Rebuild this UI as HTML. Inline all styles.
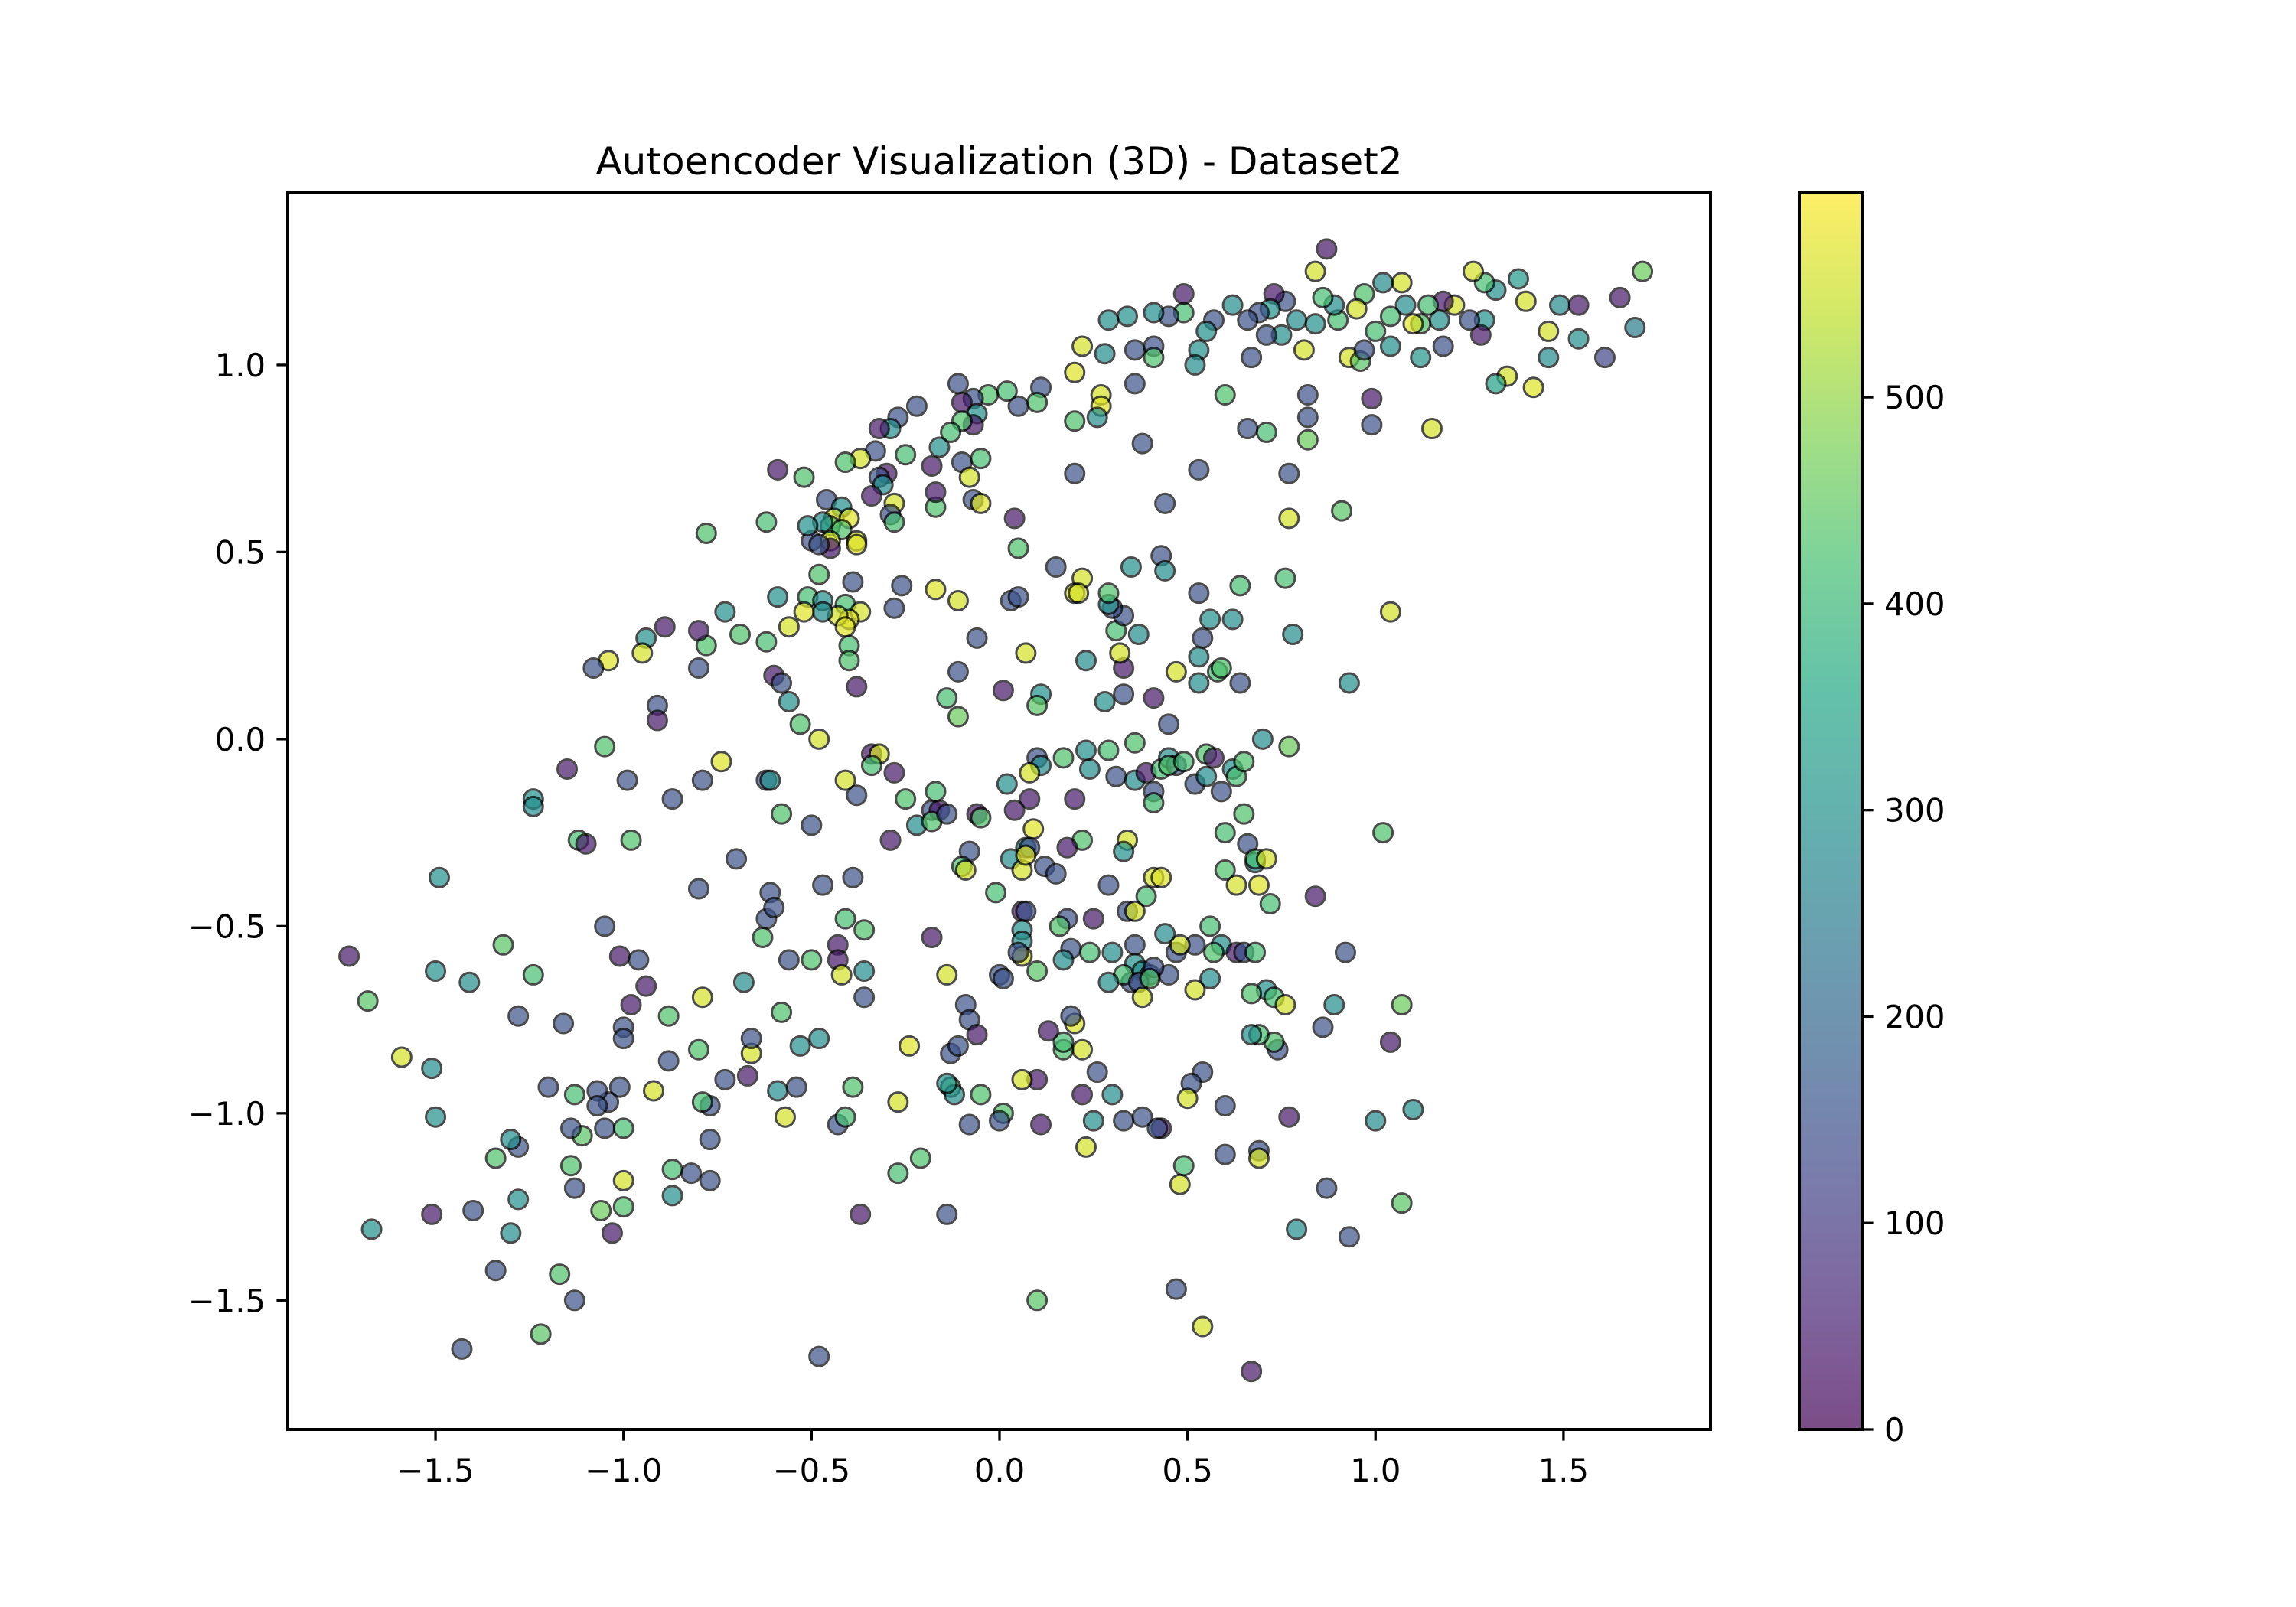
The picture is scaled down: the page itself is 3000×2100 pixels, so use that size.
<!DOCTYPE html>
<html><head><meta charset="utf-8"><style>
html,body{margin:0;padding:0;background:#fff;}
svg{display:block;font-family:"DejaVu Sans","Liberation Sans",sans-serif;}
</style></head><body>
<svg id="chart" width="3000" height="2100" viewBox="0 0 3000 2100">
<defs><linearGradient id="vir" x1="0" y1="1" x2="0" y2="0"></linearGradient></defs>
<rect width="3000" height="2100" fill="#fff"/>
<text x="1305.5" y="228" font-size="50" text-anchor="middle">Autoencoder Visualization (3D) - Dataset2</text>
<g id="points"></g>
<rect x="376" y="252" width="1859" height="1616" fill="none" stroke="#000" stroke-width="4"/>
<g id="xticks"></g>
<g id="yticks"></g>
<rect x="2351" y="252" width="82" height="1616" fill="url(#vir)" fill-opacity="0.7"/>
<rect x="2351" y="252" width="82" height="1616" fill="none" stroke="#000" stroke-width="4"/>
<g id="cticks"></g>
</svg>
<script>
const xTicks=[-1.5,-1.0,-0.5,0.0,0.5,1.0,1.5];
const yTicks=[-1.5,-1.0,-0.5,0.0,0.5,1.0];
const cTicks=[0,100,200,300,400,500];
const xDomain=[-1.893,1.891];
const yDomain=[-1.845,1.460];
const cDomain=[0,599];
const points=[
[0.87,1.31,30],[1.71,1.25,460],[1.65,1.18,40],[1.69,1.10,250],[1.61,1.02,120],[1.54,1.16,40],[1.49,1.16,280],[1.54,1.07,300],[1.46,1.09,560],[1.46,1.02,290],
[1.42,0.94,570],[1.40,1.17,560],[1.38,1.23,320],[1.35,0.97,560],[1.32,0.95,340],[1.32,1.20,300],[1.29,1.22,420],[1.26,1.25,560],[1.29,1.12,300],[1.28,1.08,40],
[1.25,1.12,150],[1.21,1.16,560],[1.18,1.17,40],[1.17,1.12,300],[1.18,1.05,150],[1.14,1.16,420],[1.12,1.11,430],[1.08,1.16,290],[1.12,1.02,310],[1.10,1.11,570],
[1.07,1.22,560],[1.04,1.13,420],[1.02,1.22,280],[1.04,1.05,300],[1.00,1.09,420],[0.97,1.19,430],[0.95,1.15,560],[0.93,1.02,560],[0.96,1.01,440],[0.97,1.04,150],
[0.90,1.12,420],[0.89,1.16,290],[0.86,1.18,420],[0.84,1.25,560],[0.84,1.11,300],[0.79,1.12,290],[0.81,1.04,560],[0.75,1.08,300],[0.76,1.17,150],[0.73,1.19,40],
[0.72,1.15,300],[0.69,1.14,150],[0.71,1.08,150],[0.66,1.12,150],[0.62,1.16,290],[0.67,1.02,150],[0.57,1.12,150],[0.55,1.09,300],[0.53,1.04,300],[0.52,1.00,290],
[0.49,1.14,420],[0.49,1.19,40],[0.45,1.13,150],[0.41,1.14,290],[0.41,1.05,150],[0.41,1.02,430],[0.36,1.04,150],[0.36,0.95,150],[0.34,1.13,300],[0.29,1.12,300],
[0.28,1.03,290],[0.27,0.92,560],[0.27,0.89,570],[0.26,0.86,290],[0.22,1.05,560],[0.20,0.98,570],[0.20,0.85,430],[0.20,0.71,150],[0.11,0.94,150],[0.10,0.90,430],
[0.05,0.89,150],[0.02,0.93,420],[-0.03,0.92,430],[-0.07,0.91,150],[-0.11,0.95,150],[-0.10,0.90,40],[-0.06,0.87,300],[-0.07,0.84,40],[-0.10,0.85,430],[-0.13,0.82,420],
[-0.16,0.78,300],[-0.22,0.89,150],[-0.27,0.86,150],[-0.29,0.83,290],[-0.32,0.83,40],[-0.25,0.76,420],[-0.33,0.77,150],[-0.37,0.75,560],[-0.41,0.74,430],[-0.30,0.71,40],
[-0.32,0.70,150],[-0.31,0.68,290],[-0.34,0.65,40],[-0.28,0.63,560],[-0.29,0.60,150],[-0.18,0.73,40],[-0.10,0.74,150],[-0.05,0.75,420],[-0.08,0.70,560],[-0.07,0.64,150],
[-0.05,0.63,570],[-0.17,0.62,430],[-0.17,0.66,40],[-0.28,0.58,420],[-0.59,0.72,40],[-0.52,0.70,430],[-0.46,0.64,150],[-0.42,0.62,300],[-0.44,0.59,560],[-0.40,0.59,570],
[-0.45,0.57,420],[-0.47,0.58,290],[-0.42,0.56,430],[-0.45,0.53,560],[-0.45,0.51,40],[-0.50,0.53,150],[-0.48,0.52,150],[-0.38,0.53,560],[-0.38,0.52,570],[-0.51,0.57,300],
[-0.62,0.58,420],[-0.78,0.55,430],[0.04,0.59,40],[0.05,0.51,430],[0.15,0.46,150],[0.22,0.43,560],[0.20,0.39,570],[0.35,0.46,300],[0.43,0.49,150],[0.44,0.45,290],
[0.44,0.63,150],[0.38,0.79,150],[0.53,0.72,150],[0.66,0.83,150],[0.60,0.92,430],[0.71,0.82,420],[0.82,0.86,150],[0.82,0.92,150],[0.77,0.71,150],[0.82,0.80,460],
[0.99,0.84,150],[0.99,0.91,40],[1.15,0.83,560],[0.91,0.61,440],[0.77,0.59,560],[0.76,0.43,420],[0.78,0.28,290],[1.04,0.34,560],[0.93,0.15,300],[0.64,0.41,420],
[0.62,0.32,290],[0.56,0.32,300],[0.54,0.27,150],[0.53,0.39,150],[0.53,0.22,290],[0.53,0.15,300],[0.58,0.18,420],[0.59,0.19,430],[0.64,0.15,150],[0.47,0.18,560],
[0.45,0.04,150],[0.41,0.11,40],[0.33,0.12,150],[0.28,0.10,300],[0.33,0.19,40],[0.32,0.23,560],[0.37,0.28,290],[0.31,0.29,420],[0.33,0.33,150],[0.30,0.35,150],
[0.29,0.36,300],[0.29,0.39,430],[0.21,0.39,560],[0.23,0.21,290],[0.07,0.23,560],[0.11,0.12,300],[0.10,0.09,440],[0.01,0.13,40],[-0.06,0.27,150],[0.03,0.37,150],
[0.05,0.38,150],[-0.11,0.37,560],[-0.17,0.40,570],[-0.26,0.41,150],[-0.28,0.35,150],[-0.11,0.18,150],[-0.14,0.11,420],[-0.11,0.06,460],[-0.39,0.42,150],[-0.41,0.36,420],
[-0.37,0.34,560],[-0.40,0.32,570],[-0.43,0.33,560],[-0.41,0.30,570],[-0.40,0.25,420],[-0.40,0.21,430],[-0.38,0.14,40],[-0.48,0.44,430],[-0.51,0.38,420],[-0.47,0.37,290],
[-0.59,0.38,300],[-0.47,0.34,290],[-0.56,0.30,560],[-0.52,0.34,570],[-0.60,0.17,40],[-0.58,0.15,150],[-0.56,0.10,300],[-0.62,0.26,420],[-0.69,0.28,430],[-0.73,0.34,300],
[-0.78,0.25,430],[-0.80,0.29,40],[-0.80,0.19,150],[-0.89,0.30,40],[-0.94,0.27,300],[-0.95,0.23,560],[-1.04,0.21,570],[-1.08,0.19,150],[-0.91,0.09,150],[-0.91,0.05,40],
[-1.05,-0.02,430],[-0.53,0.04,430],[-0.48,0.00,560],[-0.74,-0.06,570],[-0.79,-0.11,150],[-0.99,-0.11,150],[-1.15,-0.08,40],[-0.87,-0.16,150],[-1.24,-0.16,300],[-1.24,-0.18,290],
[-1.12,-0.27,420],[-1.10,-0.28,40],[-0.98,-0.27,430],[-1.49,-0.37,300],[-0.62,-0.11,150],[-0.61,-0.11,300],[-0.58,-0.20,430],[-0.50,-0.23,150],[-0.41,-0.11,560],[-0.38,-0.15,150],
[-0.34,-0.04,40],[-0.32,-0.04,560],[-0.34,-0.07,420],[-0.28,-0.09,40],[-0.25,-0.16,430],[-0.29,-0.27,40],[-0.22,-0.23,290],[-0.18,-0.19,150],[-0.17,-0.14,420],[-0.16,-0.19,40],
[-0.18,-0.22,430],[-0.14,-0.20,150],[-0.06,-0.20,40],[-0.05,-0.21,430],[-0.08,-0.30,150],[-0.10,-0.34,430],[-0.09,-0.35,560],[0.03,-0.32,290],[0.02,-0.12,300],[0.10,-0.05,150],
[0.11,-0.07,290],[0.08,-0.09,560],[0.08,-0.16,40],[0.09,-0.24,570],[0.07,-0.29,300],[0.08,-0.29,150],[0.06,-0.35,560],[0.07,-0.31,570],[0.04,-0.19,40],[-0.01,-0.41,420],
[0.12,-0.34,150],[0.15,-0.36,150],[0.06,-0.46,40],[0.07,-0.46,150],[0.06,-0.51,300],[0.06,-0.54,290],[0.06,-0.58,560],[0.05,-0.57,150],[0.00,-0.63,150],[0.01,-0.64,150],
[-0.09,-0.71,150],[-0.08,-0.75,150],[-0.06,-0.79,40],[-0.14,-0.63,560],[-0.18,-0.53,40],[0.20,-0.16,40],[0.22,-0.27,430],[0.18,-0.29,40],[0.24,-0.08,290],[0.29,-0.03,420],
[0.31,-0.10,150],[0.23,-0.03,300],[0.17,-0.05,430],[0.25,-0.48,40],[0.24,-0.57,420],[0.19,-0.56,150],[0.17,-0.59,290],[0.18,-0.48,150],[0.16,-0.50,430],[0.29,-0.39,150],
[0.34,-0.27,560],[0.33,-0.30,300],[0.34,-0.46,150],[0.36,-0.46,560],[0.39,-0.42,420],[0.41,-0.37,560],[0.43,-0.37,570],[0.36,-0.11,290],[0.39,-0.09,40],[0.43,-0.08,420],
[0.45,-0.05,300],[0.47,-0.07,150],[0.45,-0.07,430],[0.41,-0.14,150],[0.41,-0.17,420],[0.36,-0.01,430],[0.49,-0.06,420],[0.52,-0.12,150],[0.55,-0.04,430],[0.57,-0.05,40],
[0.55,-0.10,290],[0.59,-0.14,150],[0.62,-0.08,300],[0.63,-0.10,420],[0.65,-0.06,430],[0.70,0.00,290],[0.77,-0.02,460],[0.65,-0.20,430],[0.60,-0.25,420],[0.66,-0.28,150],
[0.68,-0.33,290],[0.68,-0.32,420],[0.71,-0.32,560],[0.69,-0.39,570],[0.63,-0.39,560],[0.72,-0.44,420],[0.60,-0.35,430],[0.59,-0.55,300],[0.63,-0.57,40],[0.65,-0.57,150],
[0.68,-0.57,420],[0.56,-0.50,420],[0.57,-0.57,430],[0.52,-0.55,150],[0.47,-0.57,150],[0.48,-0.55,560],[0.44,-0.52,290],[0.45,-0.63,150],[0.36,-0.55,150],[0.36,-0.60,300],
[0.38,-0.62,290],[0.40,-0.63,150],[0.41,-0.61,150],[0.35,-0.65,150],[0.33,-0.63,420],[0.37,-0.65,150],[0.40,-0.64,430],[0.38,-0.69,560],[0.30,-0.57,290],[0.29,-0.65,300],
[0.52,-0.67,560],[0.56,-0.64,290],[0.71,-0.67,300],[0.73,-0.69,420],[0.76,-0.71,560],[0.67,-0.68,430],[0.74,-0.83,150],[0.73,-0.81,430],[0.69,-0.79,420],[0.67,-0.79,290],
[0.89,-0.71,290],[0.86,-0.77,150],[0.92,-0.57,150],[0.84,-0.42,40],[1.02,-0.25,430],[1.07,-0.71,460],[1.04,-0.81,40],[1.10,-0.99,300],[1.00,-1.02,290],[1.07,-1.24,440],
[0.87,-1.20,150],[0.93,-1.33,150],[0.79,-1.31,290],[0.77,-1.01,40],[0.69,-1.10,150],[0.69,-1.12,560],[0.60,-1.11,150],[0.60,-0.98,150],[0.54,-0.89,150],[0.51,-0.92,150],
[0.50,-0.96,560],[0.49,-1.14,420],[0.48,-1.19,560],[0.47,-1.47,150],[0.54,-1.57,560],[0.67,-1.69,40],[0.43,-1.04,40],[0.42,-1.04,150],[0.38,-1.01,150],[0.33,-1.02,150],
[0.25,-1.02,300],[0.30,-0.95,290],[0.26,-0.89,150],[0.22,-0.83,560],[0.17,-0.83,430],[0.20,-0.76,570],[0.19,-0.74,150],[0.17,-0.81,420],[0.22,-0.95,40],[0.23,-1.09,560],
[0.13,-0.78,40],[0.10,-0.91,40],[0.06,-0.91,560],[0.10,-0.62,440],[0.11,-1.03,40],[0.10,-1.50,440],[0.01,-1.00,430],[0.00,-1.02,150],[-0.08,-1.03,150],[-0.05,-0.95,430],
[-0.13,-0.93,420],[-0.12,-0.95,290],[-0.14,-0.92,300],[-0.13,-0.84,150],[-0.11,-0.82,150],[-0.14,-1.27,150],[-0.21,-1.12,430],[-0.27,-1.16,420],[-0.27,-0.97,560],[-0.24,-0.82,570],
[-0.39,-0.93,430],[-0.43,-1.03,150],[-0.41,-1.01,420],[-0.57,-1.01,560],[-0.54,-0.93,150],[-0.59,-0.94,290],[-0.53,-0.82,300],[-0.48,-0.80,290],[-0.58,-0.73,430],[-0.67,-0.90,40],
[-0.66,-0.84,560],[-0.66,-0.80,150],[-0.68,-0.65,290],[-0.73,-0.91,150],[-0.77,-0.98,150],[-0.79,-0.97,420],[-0.77,-1.07,150],[-0.77,-1.18,150],[-0.82,-1.16,150],[-0.80,-0.83,430],
[-0.79,-0.69,560],[-0.80,-0.40,150],[-0.70,-0.32,150],[-0.63,-0.53,430],[-0.62,-0.48,150],[-0.61,-0.41,150],[-0.60,-0.45,150],[-0.56,-0.59,150],[-0.50,-0.59,430],[-0.47,-0.39,150],
[-0.43,-0.55,40],[-0.43,-0.59,40],[-0.41,-0.48,420],[-0.42,-0.63,560],[-0.39,-0.37,150],[-0.36,-0.51,430],[-0.36,-0.62,290],[-0.36,-0.69,150],[-0.37,-1.27,40],[-0.48,-1.65,150],
[-0.87,-1.22,300],[-0.87,-1.15,420],[-0.92,-0.94,560],[-0.88,-0.74,430],[-0.88,-0.86,150],[-0.94,-0.66,40],[-0.96,-0.59,150],[-1.01,-0.58,40],[-0.98,-0.71,40],[-1.00,-0.77,150],
[-1.00,-0.80,150],[-1.05,-0.50,150],[-1.01,-0.93,150],[-1.00,-1.04,420],[-1.00,-1.18,560],[-1.00,-1.25,430],[-1.03,-1.32,40],[-1.06,-1.26,460],[-1.04,-0.97,150],[-1.07,-0.94,150],
[-1.07,-0.98,150],[-1.05,-1.04,150],[-1.11,-1.06,440],[-1.13,-0.95,420],[-1.14,-1.04,150],[-1.14,-1.14,430],[-1.13,-1.20,150],[-1.13,-1.50,150],[-1.17,-1.43,430],[-1.16,-0.76,150],
[-1.20,-0.93,150],[-1.22,-1.59,440],[-1.24,-0.63,420],[-1.28,-0.74,150],[-1.28,-1.09,150],[-1.30,-1.07,290],[-1.28,-1.23,300],[-1.30,-1.32,290],[-1.34,-1.12,430],[-1.32,-0.55,440],
[-1.34,-1.42,150],[-1.40,-1.26,150],[-1.43,-1.63,150],[-1.41,-0.65,290],[-1.50,-0.62,300],[-1.51,-0.88,290],[-1.50,-1.01,300],[-1.51,-1.27,40],[-1.59,-0.85,560],[-1.68,-0.70,440],
[-1.67,-1.31,300],[-1.73,-0.58,40]
];
const viridis=[[0,"#440154"],[0.1,"#482475"],[0.2,"#414487"],[0.3,"#355f8d"],[0.4,"#2a788e"],[0.5,"#21918c"],[0.6,"#22a884"],[0.7,"#44bf70"],[0.8,"#7ad151"],[0.9,"#bddf26"],[1,"#fde725"]];
const NS="http://www.w3.org/2000/svg";
const X0=376,X1=2235,Y0=252,Y1=1868;
function sx(v){return X0+(v-xDomain[0])/(xDomain[1]-xDomain[0])*(X1-X0);}
function sy(v){return Y1-(v-yDomain[0])/(yDomain[1]-yDomain[0])*(Y1-Y0);}
function sc(v){return Y1-(v-cDomain[0])/(cDomain[1]-cDomain[0])*(Y1-Y0);}
function hex(h){return [1,3,5].map(i=>parseInt(h.substr(i,2),16));}
function cmap(t){t=Math.max(0,Math.min(1,t));for(let i=1;i<viridis.length;i++){if(t<=viridis[i][0]){const a=viridis[i-1],b=viridis[i];const f=(t-a[0])/(b[0]-a[0]);const ca=hex(a[1]),cb=hex(b[1]);return "rgb("+ca.map((c,k)=>Math.round(c+(cb[k]-c)*f)).join(",")+")";}}return viridis[viridis.length-1][1];}
const grad=document.getElementById('vir');
viridis.forEach(s=>{const st=document.createElementNS(NS,'stop');st.setAttribute('offset',s[0]);st.setAttribute('stop-color',s[1]);grad.appendChild(st);});
const pg=document.getElementById('points');
points.forEach(p=>{
const c=document.createElementNS(NS,'circle');
c.setAttribute('cx',sx(p[0]));c.setAttribute('cy',sy(p[1]));c.setAttribute('r',12.5);
c.setAttribute('fill',cmap((p[2]-cDomain[0])/(cDomain[1]-cDomain[0])));
c.setAttribute('stroke','#000');c.setAttribute('stroke-width',3);c.setAttribute('opacity',0.7);


pg.appendChild(c);});
function fmt(v){return (v<0?"\u2212":"")+Math.abs(v).toFixed(1);}
const xg=document.getElementById('xticks');
xTicks.forEach(v=>{const x=sx(v);
const l=document.createElementNS(NS,'line');l.setAttribute('x1',x);l.setAttribute('x2',x);l.setAttribute('y1',Y1);l.setAttribute('y2',Y1+14.6);l.setAttribute('stroke','#000');l.setAttribute('stroke-width',3.3);


xg.appendChild(l);
const t=document.createElementNS(NS,'text');t.setAttribute('x',x);t.setAttribute('y',Y1+68);t.setAttribute('font-size',41.7);t.setAttribute('text-anchor','middle');t.textContent=fmt(v);


xg.appendChild(t);});
const yg=document.getElementById('yticks');
yTicks.forEach(v=>{const y=sy(v);
const l=document.createElementNS(NS,'line');l.setAttribute('x1',X0-14.6);l.setAttribute('x2',X0);l.setAttribute('y1',y);l.setAttribute('y2',y);l.setAttribute('stroke','#000');l.setAttribute('stroke-width',3.3);


yg.appendChild(l);
const t=document.createElementNS(NS,'text');t.setAttribute('x',X0-29);t.setAttribute('y',y+15);t.setAttribute('font-size',41.7);t.setAttribute('text-anchor','end');t.textContent=fmt(v);


yg.appendChild(t);});
const cg=document.getElementById('cticks');
cTicks.forEach(v=>{const y=sc(v);
const l=document.createElementNS(NS,'line');l.setAttribute('x1',2433);l.setAttribute('x2',2433+14.6);l.setAttribute('y1',y);l.setAttribute('y2',y);l.setAttribute('stroke','#000');l.setAttribute('stroke-width',3.3);


cg.appendChild(l);
const t=document.createElementNS(NS,'text');t.setAttribute('x',2462);t.setAttribute('y',y+15);t.setAttribute('font-size',41.7);t.setAttribute('text-anchor','start');t.textContent=String(v);


cg.appendChild(t);});
</script>
</body></html>
